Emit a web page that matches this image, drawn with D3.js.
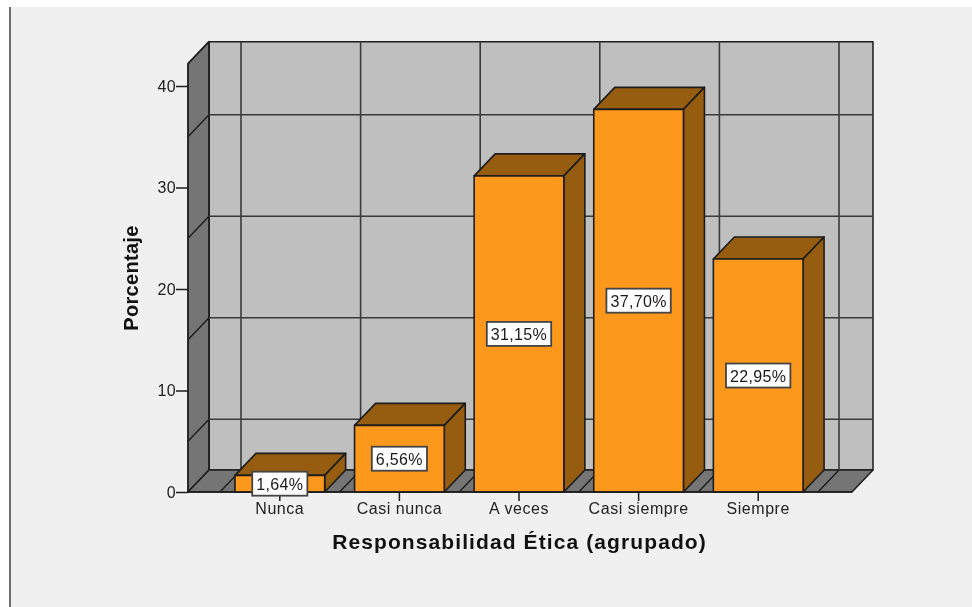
<!DOCTYPE html>
<html>
<head>
<meta charset="utf-8">
<script src="https://cdn.jsdelivr.net/npm/d3@7/dist/d3.min.js"></script>
<style>
    html, body { margin: 0; padding: 0; background: #fff; }
    svg { display: block; font-family: "Liberation Sans", Arial, sans-serif; filter: blur(0.4px); }
</style>
</head>
<body>
<svg id="chart" width="972" height="607"></svg>
<script>
// data
var categories = ['Nunca', 'Casi nunca', 'A veces', 'Casi siempre', 'Siempre'];
var percentages = [1.64, 6.56, 31.15, 37.70, 22.95];
var labels = ['1,64%', '6,56%', '31,15%', '37,70%', '22,95%'];
var y_ticks = [0, 10, 20, 30, 40];
var grid_values = [5, 15, 25, 35];

// layout
var depth_x = 21;
var depth_y = 22;
var left = 188;
var right = 852;
var axis_max = 42.2;

// colors
var ink = '#1c1c1c';
var front_color = '#fc991c';
var side_color = '#965c10';

// get canvas
var svg = d3.select('#chart');

// scales
var y = d3.scaleLinear().domain([0, 40]).range([492, 86]);
var x = d3.scaleBand().domain(categories).range([220, 818]).paddingInner(0.25).paddingOuter(0.125);

// polygon helper
function poly(parent, points, fill, stroke_width) {
    return parent.append('polygon')
        .attr('points', points.map(function(p) { return p.join(','); }).join(' '))
        .attr('fill', fill)
        .attr('stroke', ink)
        .attr('stroke-width', stroke_width)
        .attr('stroke-linejoin', 'round');
}

// line helper
function seg(parent, x1, y1, x2, y2, width, color) {
    parent.append('line')
        .attr('x1', x1).attr('y1', y1)
        .attr('x2', x2).attr('y2', y2)
        .attr('stroke', color || ink)
        .attr('stroke-width', width);
}

// page background
svg.append('rect').attr('x', 9).attr('y', 7).attr('width', 963).attr('height', 600).attr('fill', '#f0f0f0');
svg.append('rect').attr('x', 9).attr('y', 7).attr('width', 2).attr('height', 600).attr('fill', '#6e6e6e');

// walls
var walls = svg.append('g');
var top_y = y(axis_max);
poly(walls, [[left + depth_x, top_y - depth_y], [right + depth_x, top_y - depth_y], [right + depth_x, y(0) - depth_y], [left + depth_x, y(0) - depth_y]], '#bfbfbf', 1.5);
poly(walls, [[left, top_y], [left + depth_x, top_y - depth_y], [left + depth_x, y(0) - depth_y], [left, y(0)]], '#757575', 1.8);
poly(walls, [[left, y(0)], [left + depth_x, y(0) - depth_y], [right + depth_x, y(0) - depth_y], [right, y(0)]], '#757575', 1.5);

// horizontal grid, on side wall and back wall
grid_values.forEach(function(t) {
    seg(walls, left, y(t), left + depth_x, y(t) - depth_y, 1.4);
    seg(walls, left + depth_x, y(t) - depth_y, right + depth_x, y(t) - depth_y, 1.4, '#3a3a3a');
});

// vertical grid at the band edges, on floor and back wall
var edges = categories.map(function(c) { return x(c) - x.step() * x.paddingOuter(); });
edges.push(x.range()[1]);
edges.forEach(function(e) {
    seg(walls, e, y(0), e + depth_x, y(0) - depth_y, 1.4);
    seg(walls, e + depth_x, y(0) - depth_y, e + depth_x, top_y - depth_y, 1.6, '#3a3a3a');
});

// bars
var bars = svg.append('g');
categories.forEach(function(c, i) {
    var x0 = x(c);
    var x1 = x0 + x.bandwidth();
    var y0 = y(0);
    var y1 = y(percentages[i]);
    poly(bars, [[x0, y1], [x0 + depth_x, y1 - depth_y], [x1 + depth_x, y1 - depth_y], [x1, y1]], side_color, 1.6);
    poly(bars, [[x1, y1], [x1 + depth_x, y1 - depth_y], [x1 + depth_x, y0 - depth_y], [x1, y0]], side_color, 1.6);
    poly(bars, [[x0, y1], [x1, y1], [x1, y0], [x0, y0]], front_color, 1.6);
});

// y axis
var y_axis = d3.axisLeft(y).tickValues(y_ticks).tickSize(12).tickPadding(0).tickFormat(d3.format('d'));
var y_group = svg.append('g').attr('transform', 'translate(' + left + ',0)').call(y_axis);
y_group.select('.domain').remove();
y_group.selectAll('line').attr('stroke', ink).attr('stroke-width', 1.5);
y_group.selectAll('text').attr('fill', '#222').style('font-size', '16px').style('letter-spacing', '0.4px').style('font-family', '"Liberation Sans", Arial, sans-serif');

// x axis
var x_axis = d3.axisBottom(x).tickSize(9).tickPadding(2);
var x_group = svg.append('g').attr('transform', 'translate(0,' + y(0) + ')').call(x_axis);
x_group.select('.domain').remove();
x_group.selectAll('line').attr('stroke', ink).attr('stroke-width', 1.5);
x_group.selectAll('text').attr('fill', '#222').style('font-size', '16px').style('letter-spacing', '0.55px').style('font-family', '"Liberation Sans", Arial, sans-serif');

// front edge of the floor
seg(svg, left, y(0), right, y(0), 1.6);

// value labels
var label_group = svg.append('g');
categories.forEach(function(c, i) {
    var cx = x(c) + x.bandwidth() / 2;
    var cy = y(percentages[i] / 2);
    var text = label_group.append('text')
        .attr('x', cx)
        .attr('y', cy + 6)
        .attr('text-anchor', 'middle')
        .attr('fill', '#1a1a1a')
        .style('font-size', '16px')
        .style('letter-spacing', '0.35px')
        .text(labels[i]);
    var w = text.node().getComputedTextLength() + 8;
    label_group.insert('rect', 'text')
        .attr('x', cx - w / 2)
        .attr('y', cy - 12)
        .attr('width', w)
        .attr('height', 24)
        .attr('fill', '#fff')
        .attr('stroke', '#444')
        .attr('stroke-width', 1.8);
});

// axis titles
svg.append('text')
    .attr('x', 519.5)
    .attr('y', 549)
    .attr('text-anchor', 'middle')
    .attr('fill', '#111')
    .style('font-size', '21px')
    .style('font-weight', 'bold')
    .style('letter-spacing', '1.1px')
    .text('Responsabilidad Ética (agrupado)');

svg.append('text')
    .attr('transform', 'translate(138,278) rotate(-90)')
    .attr('text-anchor', 'middle')
    .attr('fill', '#111')
    .style('font-size', '20px')
    .style('font-weight', 'bold')
    .style('letter-spacing', '0.3px')
    .text('Porcentaje');
</script>
</body>
</html>
